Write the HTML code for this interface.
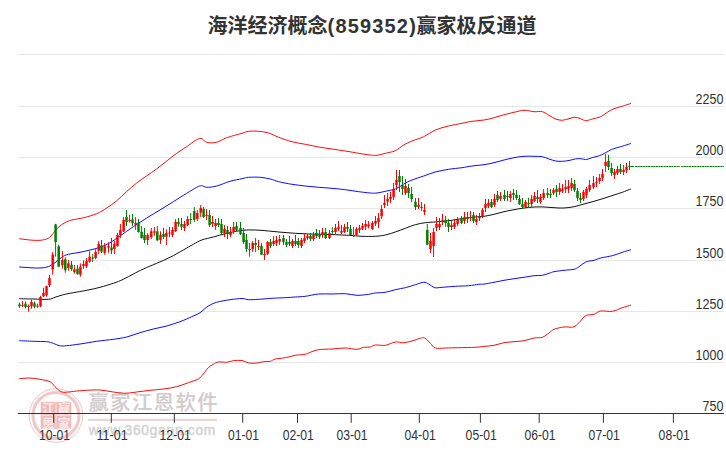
<!DOCTYPE html><html><head><meta charset="utf-8"><title>chart</title><style>
html,body{margin:0;padding:0;background:#fff}svg{display:block}
.ax{font-family:"Liberation Sans",sans-serif;font-size:14.2px;fill:#333}
.tt{font-family:"Liberation Sans","Noto Sans CJK SC",sans-serif;font-weight:bold;font-size:20px;fill:#333}
.wm{font-family:"Liberation Sans","Noto Sans CJK SC",sans-serif;font-weight:bold}
</style></head><body>
<svg width="726" height="450" viewBox="0 0 726 450">
<rect width="726" height="450" fill="#fff"/>
<line x1="18" x2="724" y1="54.5" y2="54.5" stroke="#e6e6e6" stroke-width="1"/>
<line x1="18" x2="724" y1="106.5" y2="106.5" stroke="#e6e6e6" stroke-width="1"/>
<line x1="18" x2="724" y1="157.5" y2="157.5" stroke="#e6e6e6" stroke-width="1"/>
<line x1="18" x2="724" y1="208.5" y2="208.5" stroke="#e6e6e6" stroke-width="1"/>
<line x1="18" x2="724" y1="260.5" y2="260.5" stroke="#e6e6e6" stroke-width="1"/>
<line x1="18" x2="724" y1="311.5" y2="311.5" stroke="#e6e6e6" stroke-width="1"/>
<line x1="18" x2="724" y1="362.5" y2="362.5" stroke="#e6e6e6" stroke-width="1"/>
<g id="wm">
<circle cx="56" cy="415.5" r="26.8" fill="none" stroke="#eebebe" stroke-width="0.9"/>
<circle cx="56" cy="415.5" r="23" fill="none" stroke="#f1c8c8" stroke-width="3.2"/>
<rect x="40.7" y="401.7" width="30.6" height="27.4" rx="1.5" fill="#efbcbc"/>
<path d="M56 402.5V428.5M41.5 415.4H70.5" stroke="#f6d8d8" stroke-width="1.2"/>
<text class="wm" x="48.4" y="412.8" font-size="12.6" fill="#fbeaea" text-anchor="middle">江</text>
<text class="wm" x="64.0" y="412.8" font-size="12.6" fill="#fbeaea" text-anchor="middle">赢</text>
<text class="wm" x="48.4" y="427.6" font-size="12.6" fill="#fbeaea" text-anchor="middle">恩</text>
<text class="wm" x="64.0" y="427.6" font-size="12.6" fill="#fbeaea" text-anchor="middle">家</text>
<text class="wm" x="88.6" y="409.5" font-size="20.3" style="font-weight:500" fill="#d2cccc" stroke="#d2cccc" stroke-width="0.2" textLength="129" lengthAdjust="spacing">赢家江恩软件</text>
<line x1="88" x2="217" y1="419.8" y2="419.8" stroke="#ecd6d6" stroke-width="2.2"/>
<text class="wm" x="88.8" y="434.9" font-size="13.8" style="font-weight:normal" fill="#d2d2d2" stroke="#d2d2d2" stroke-width="0.45" textLength="126.5" lengthAdjust="spacing">www.360gann.com</text>
</g>
<path d="M19.2 238.7C21.0 238.9 26.5 239.7 30.0 240.0C33.5 240.3 37.0 240.6 40.0 240.3C43.0 240.0 46.1 239.5 48.3 238.3C50.5 237.1 51.6 235.1 53.3 233.3C55.0 231.5 56.3 229.1 58.3 227.3C60.2 225.5 62.8 223.8 65.0 222.6C67.2 221.4 68.7 220.8 71.7 220.0C74.8 219.2 79.1 218.9 83.3 217.8C87.5 216.8 92.8 215.3 96.7 213.7C100.6 212.1 103.4 210.2 106.7 208.0C110.0 205.8 113.4 203.6 116.7 200.8C120.0 198.1 123.4 194.5 126.7 191.5C130.0 188.5 133.4 185.6 136.7 183.0C140.0 180.4 143.4 178.2 146.7 175.8C150.0 173.5 153.4 171.4 156.7 168.9C160.0 166.4 163.4 163.6 166.7 161.0C170.0 158.4 173.4 155.7 176.7 153.3C180.0 150.9 183.6 148.8 186.7 146.7C189.8 144.6 192.6 142.1 195.0 140.7C197.4 139.3 199.1 138.0 201.0 138.3C202.9 138.6 204.1 141.6 206.7 142.3C209.3 143.0 213.4 143.1 216.7 142.3C220.0 141.5 222.5 139.2 226.7 137.7C230.9 136.2 238.3 134.4 242.0 133.3C245.7 132.2 245.9 131.6 248.7 131.3C251.5 131.0 255.4 131.0 258.7 131.3C262.0 131.6 265.4 132.0 268.7 133.0C272.0 134.0 274.8 135.9 278.7 137.3C282.6 138.8 287.6 140.5 292.0 141.7C296.4 142.9 300.9 143.4 305.3 144.3C309.8 145.2 314.2 146.2 318.7 147.0C323.1 147.8 327.6 148.3 332.0 149.0C336.4 149.7 340.9 150.3 345.3 151.0C349.8 151.7 354.5 152.6 358.7 153.3C362.9 154.0 367.2 154.7 370.3 155.0C373.4 155.3 374.5 155.6 377.0 155.3C379.5 155.0 382.2 154.1 385.3 153.3C388.4 152.5 392.2 152.1 395.3 150.7C398.4 149.3 400.9 146.6 403.7 145.0C406.5 143.4 408.7 142.4 412.0 141.0C415.3 139.6 419.8 138.5 423.7 136.7C427.6 134.9 431.1 131.8 435.3 130.0C439.5 128.2 444.2 127.1 448.7 126.0C453.1 124.9 458.1 124.1 462.0 123.3C465.9 122.5 468.3 121.8 472.0 121.3C475.7 120.8 480.3 120.6 484.0 120.0C487.7 119.4 490.7 118.6 494.0 117.7C497.3 116.8 500.7 115.6 504.0 114.7C507.3 113.8 510.7 113.0 514.0 112.3C517.3 111.6 520.7 110.4 524.0 110.3C527.3 110.2 531.0 111.5 534.0 111.7C537.0 111.9 539.8 111.1 542.3 111.7C544.8 112.3 546.8 114.1 549.0 115.3C551.2 116.5 553.5 118.2 555.7 119.0C557.9 119.8 560.1 120.3 562.3 120.3C564.5 120.2 566.9 119.2 569.0 118.7C571.1 118.2 572.8 117.3 574.7 117.3C576.7 117.3 578.9 118.1 580.7 118.7C582.5 119.3 583.8 120.7 585.7 120.7C587.6 120.8 589.8 119.7 592.3 119.0C594.8 118.3 598.2 117.8 600.7 116.7C603.2 115.6 605.1 113.6 607.3 112.3C609.5 111.0 611.5 109.7 614.0 108.7C616.5 107.7 619.5 107.2 622.3 106.3C625.1 105.4 629.5 103.9 630.9 103.4" fill="none" stroke="#ff0a0a" stroke-width="1" stroke-linejoin="round"/>
<path d="M19.2 378.7C21.0 378.6 26.5 377.9 30.0 378.0C33.5 378.1 36.7 378.7 40.0 379.3C43.3 379.9 47.5 380.5 50.0 381.7C52.5 382.9 53.3 385.1 55.0 386.7C56.7 388.2 58.3 390.1 60.0 391.0C61.7 391.9 62.2 392.3 65.0 392.3C67.8 392.3 73.1 391.3 76.7 391.0C80.3 390.7 82.8 390.5 86.7 390.3C90.6 390.1 95.6 389.7 100.0 390.0C104.4 390.3 109.1 391.4 113.3 392.0C117.5 392.6 121.1 393.3 125.0 393.3C128.9 393.3 132.5 392.5 136.7 392.0C140.9 391.5 145.6 390.8 150.0 390.3C154.4 389.8 158.9 389.6 163.3 389.0C167.8 388.4 172.5 387.8 176.7 386.7C180.9 385.6 184.7 384.0 188.3 382.7C191.9 381.4 195.8 380.4 198.3 379.0C200.8 377.6 201.6 375.9 203.3 374.0C205.0 372.1 206.6 369.3 208.3 367.7C210.0 366.1 211.6 365.2 213.3 364.3C215.0 363.4 216.1 362.3 218.3 362.0C220.5 361.7 224.2 362.5 226.7 362.3C229.2 362.1 230.8 361.0 233.3 360.7C235.9 360.4 239.4 360.1 242.0 360.5C244.6 360.9 246.2 362.6 248.7 363.0C251.2 363.4 254.5 363.2 257.0 363.0C259.5 362.8 261.5 362.0 263.7 361.7C265.9 361.4 268.4 361.8 270.3 361.3C272.2 360.9 272.8 359.6 275.3 359.0C277.8 358.4 282.0 358.3 285.3 357.7C288.6 357.1 292.0 355.9 295.3 355.3C298.6 354.7 302.8 354.8 305.3 354.3C307.8 353.8 308.1 353.1 310.3 352.3C312.5 351.5 315.1 350.2 318.7 349.7C322.3 349.1 327.6 349.3 332.0 349.0C336.4 348.7 341.1 347.9 345.3 348.0C349.5 348.1 353.9 349.4 357.0 349.3C360.1 349.2 361.5 347.7 363.7 347.3C365.9 346.9 368.4 347.4 370.3 347.0C372.2 346.6 372.8 345.3 375.3 345.0C377.8 344.7 382.0 345.8 385.3 345.3C388.6 344.8 392.2 342.4 395.3 342.0C398.4 341.6 400.9 342.9 403.7 342.7C406.5 342.5 409.2 341.7 412.0 341.0C414.8 340.3 418.2 338.8 420.3 338.3C422.4 337.8 423.0 337.2 424.7 338.0C426.4 338.8 428.5 341.6 430.3 343.3C432.1 345.0 432.8 347.2 435.3 348.0C437.8 348.8 441.4 348.1 445.3 348.0C449.2 347.9 453.7 347.8 458.7 347.7C463.7 347.6 471.1 347.5 475.3 347.3C479.5 347.1 480.9 346.7 484.0 346.4C487.1 346.1 490.7 345.9 494.0 345.3C497.3 344.7 500.7 343.3 504.0 342.7C507.3 342.1 510.7 342.0 514.0 341.7C517.3 341.4 520.7 341.3 524.0 340.7C527.3 340.1 531.0 338.6 534.0 338.0C537.0 337.4 539.8 338.1 542.3 337.3C544.8 336.5 547.0 334.3 549.0 333.0C551.0 331.7 551.5 330.3 554.0 329.3C556.5 328.3 560.8 327.4 564.0 327.0C567.2 326.6 570.8 327.7 573.3 327.0C575.8 326.3 576.9 324.6 579.0 322.7C581.1 320.8 583.2 317.1 585.7 315.7C588.2 314.3 591.5 315.1 594.0 314.3C596.5 313.5 597.7 311.5 600.7 311.0C603.8 310.5 608.7 311.9 612.3 311.3C615.9 310.8 619.2 308.7 622.3 307.7C625.4 306.7 629.5 305.5 630.9 305.0" fill="none" stroke="#ff0a0a" stroke-width="1" stroke-linejoin="round"/>
<path d="M19.2 267.0C21.0 267.1 26.5 267.5 30.0 267.7C33.5 267.9 37.0 268.2 40.0 268.0C43.0 267.8 45.8 267.6 48.3 266.7C50.8 265.8 52.8 264.3 55.0 262.7C57.2 261.1 59.5 258.7 61.7 257.3C63.9 255.9 65.2 255.1 68.3 254.3C71.3 253.5 76.4 253.0 80.0 252.3C83.6 251.6 86.7 250.8 90.0 250.0C93.3 249.2 96.7 248.5 100.0 247.3C103.3 246.1 106.7 244.6 110.0 242.7C113.3 240.8 116.1 238.7 120.0 236.0C123.9 233.3 128.9 229.7 133.3 226.7C137.8 223.7 142.2 220.8 146.7 218.0C151.1 215.2 155.6 212.7 160.0 210.0C164.4 207.3 168.9 204.5 173.3 201.7C177.8 198.9 182.8 195.7 186.7 193.3C190.6 190.9 194.2 188.6 196.7 187.3C199.2 186.0 200.0 185.7 201.7 185.7C203.4 185.7 204.2 187.2 206.7 187.3C209.2 187.4 212.8 187.0 216.7 186.0C220.6 185.0 225.8 182.5 230.0 181.3C234.2 180.1 238.9 179.4 242.0 178.7C245.1 178.0 245.6 177.5 248.7 177.3C251.8 177.1 256.7 177.0 260.3 177.3C263.9 177.6 267.2 178.3 270.3 179.0C273.4 179.7 275.1 180.8 278.7 181.7C282.3 182.6 287.6 183.6 292.0 184.3C296.4 185.0 300.9 185.5 305.3 186.0C309.8 186.5 314.2 186.9 318.7 187.3C323.1 187.7 327.6 187.9 332.0 188.3C336.4 188.7 340.9 189.1 345.3 189.7C349.8 190.3 354.5 191.1 358.7 191.7C362.9 192.2 367.2 192.8 370.3 193.0C373.4 193.2 374.5 193.3 377.0 193.0C379.5 192.7 382.2 192.0 385.3 191.3C388.4 190.6 392.2 190.2 395.3 189.0C398.4 187.8 400.9 185.5 403.7 184.0C406.5 182.5 408.7 181.3 412.0 180.0C415.3 178.7 419.8 177.3 423.7 176.0C427.6 174.7 431.1 173.1 435.3 172.0C439.5 170.9 444.2 170.0 448.7 169.3C453.1 168.6 458.1 168.2 462.0 167.7C465.9 167.1 468.3 166.5 472.0 166.0C475.7 165.5 480.3 165.2 484.0 164.7C487.7 164.1 490.7 163.5 494.0 162.7C497.3 161.9 500.7 160.8 504.0 160.0C507.3 159.2 510.7 158.3 514.0 157.7C517.3 157.1 520.7 156.5 524.0 156.3C527.3 156.1 531.0 156.2 534.0 156.3C537.0 156.4 539.8 156.2 542.3 156.7C544.8 157.1 546.8 158.3 549.0 159.0C551.2 159.7 553.5 160.6 555.7 161.0C557.9 161.4 560.1 161.4 562.3 161.3C564.5 161.2 566.8 160.9 569.0 160.5C571.2 160.1 573.5 159.2 575.5 158.9C577.5 158.6 579.2 158.6 580.9 158.7C582.6 158.8 584.3 159.5 585.5 159.6C586.7 159.7 587.0 159.3 588.2 159.0C589.4 158.7 591.2 157.9 592.7 157.5C594.2 157.1 595.8 156.8 597.3 156.3C598.8 155.8 600.3 155.4 601.8 154.7C603.3 154.0 605.0 153.0 606.4 152.3C607.8 151.6 608.8 150.9 610.0 150.3C611.2 149.7 612.1 149.2 613.6 148.7C615.1 148.2 617.3 147.7 619.1 147.2C620.9 146.7 622.5 146.1 624.5 145.5C626.5 144.9 629.8 143.8 630.9 143.5" fill="none" stroke="#0a0aff" stroke-width="1" stroke-linejoin="round"/>
<path d="M19.2 340.7C21.5 340.8 28.7 341.1 33.3 341.3C37.9 341.5 43.4 341.4 46.7 341.7C50.0 342.0 51.2 342.6 53.3 343.3C55.4 344.0 57.1 345.3 59.3 345.7C61.5 346.1 63.2 346.0 66.7 345.7C70.2 345.4 75.0 344.7 80.0 344.0C85.0 343.3 91.2 342.1 96.7 341.3C102.2 340.5 108.3 340.0 113.3 339.3C118.3 338.6 122.2 338.1 126.7 337.0C131.2 335.9 135.6 334.0 140.0 332.7C144.4 331.4 148.9 330.1 153.3 329.0C157.8 327.9 162.2 327.2 166.7 326.0C171.1 324.8 175.8 323.2 180.0 321.7C184.2 320.1 188.4 318.2 191.7 316.7C195.0 315.2 197.2 314.5 200.0 312.7C202.8 310.9 205.5 307.7 208.3 306.0C211.1 304.3 213.1 303.4 216.7 302.3C220.3 301.2 225.8 300.3 230.0 299.7C234.2 299.1 238.9 298.5 242.0 298.5C245.1 298.5 245.9 299.6 248.7 299.7C251.5 299.8 254.8 299.5 258.7 299.3C262.6 299.1 267.6 298.6 272.0 298.3C276.4 298.0 281.4 297.9 285.3 297.7C289.2 297.5 292.0 297.2 295.3 297.0C298.6 296.8 301.4 296.8 305.3 296.3C309.2 295.8 314.2 294.4 318.7 294.0C323.1 293.6 327.6 294.1 332.0 294.0C336.4 293.9 341.1 293.5 345.3 293.7C349.5 293.9 353.1 295.2 357.0 295.3C360.9 295.4 365.6 294.7 368.7 294.3C371.8 293.9 372.5 293.3 375.3 293.0C378.1 292.7 382.0 292.9 385.3 292.3C388.6 291.8 392.0 290.5 395.3 289.7C398.6 288.9 402.0 288.5 405.3 287.7C408.6 286.9 412.2 285.6 415.3 284.7C418.4 283.8 421.5 282.4 423.7 282.3C425.9 282.2 426.9 283.1 428.7 284.0C430.5 284.9 432.5 287.1 434.7 287.7C436.9 288.2 438.6 287.5 442.0 287.3C445.4 287.1 450.9 286.6 455.3 286.3C459.8 286.0 464.8 286.0 468.7 285.7C472.6 285.4 476.1 284.6 478.7 284.3C481.2 284.0 481.4 284.4 484.0 284.1C486.6 283.8 490.7 282.9 494.0 282.3C497.3 281.7 500.7 280.9 504.0 280.3C507.3 279.7 510.7 279.2 514.0 278.7C517.3 278.2 520.7 277.8 524.0 277.3C527.3 276.8 531.0 276.0 534.0 275.7C537.0 275.4 539.8 275.7 542.3 275.3C544.8 274.9 547.0 273.9 549.0 273.3C551.0 272.7 551.5 272.2 554.0 271.7C556.5 271.2 560.7 270.7 564.0 270.3C567.3 269.9 571.5 269.9 574.0 269.3C576.5 268.7 577.0 267.9 579.0 266.7C581.0 265.5 583.2 263.1 585.7 262.0C588.2 260.9 591.5 261.0 594.0 260.3C596.5 259.6 597.7 258.8 600.7 258.0C603.8 257.2 608.7 256.6 612.3 255.7C615.9 254.8 619.2 253.3 622.3 252.3C625.4 251.3 629.5 250.2 630.9 249.7" fill="none" stroke="#0a0aff" stroke-width="1" stroke-linejoin="round"/>
<path d="M19.2 298.7C21.5 298.8 28.4 298.9 33.3 299.0C38.1 299.1 44.7 299.6 48.3 299.3C51.9 299.0 52.5 298.1 55.0 297.3C57.5 296.5 60.2 295.5 63.3 294.7C66.3 293.9 69.4 293.4 73.3 292.7C77.2 292.0 82.2 291.2 86.7 290.3C91.2 289.4 95.6 288.5 100.0 287.3C104.4 286.1 109.4 284.6 113.3 283.3C117.2 282.0 120.0 280.9 123.3 279.3C126.6 277.8 130.0 275.7 133.3 274.0C136.6 272.3 139.4 270.8 143.3 269.0C147.2 267.2 152.2 265.2 156.7 263.3C161.1 261.4 165.6 259.5 170.0 257.3C174.4 255.1 179.4 252.2 183.3 250.0C187.2 247.8 190.2 246.0 193.3 244.3C196.4 242.6 198.4 241.2 201.7 240.0C205.0 238.8 209.1 238.1 213.3 237.0C217.5 235.9 221.9 234.4 226.7 233.3C231.5 232.2 237.2 230.9 242.0 230.3C246.8 229.8 250.9 229.9 255.3 230.0C259.8 230.1 264.2 230.6 268.7 231.0C273.1 231.4 277.6 231.9 282.0 232.3C286.4 232.7 290.9 233.0 295.3 233.3C299.8 233.6 304.2 233.8 308.7 234.0C313.1 234.2 317.6 234.2 322.0 234.3C326.4 234.4 330.9 234.5 335.3 234.7C339.8 234.9 344.2 235.0 348.7 235.3C353.1 235.6 357.6 236.1 362.0 236.3C366.4 236.5 371.4 236.5 375.3 236.3C379.2 236.1 382.0 235.7 385.3 235.0C388.6 234.3 392.0 233.1 395.3 232.0C398.6 230.9 402.0 229.5 405.3 228.3C408.6 227.1 412.0 225.6 415.3 224.7C418.6 223.8 422.0 223.1 425.3 222.7C428.6 222.2 431.4 222.3 435.3 222.0C439.2 221.7 444.2 221.2 448.7 220.7C453.1 220.1 457.6 219.3 462.0 218.7C466.4 218.1 471.6 217.4 475.3 217.0C479.0 216.6 480.9 216.8 484.0 216.3C487.1 215.9 490.7 215.1 494.0 214.3C497.3 213.5 500.7 212.5 504.0 211.7C507.3 210.9 510.7 210.3 514.0 209.7C517.3 209.1 520.7 208.4 524.0 208.0C527.3 207.6 530.7 207.2 534.0 207.0C537.3 206.8 540.7 206.9 544.0 207.0C547.3 207.1 550.7 207.5 554.0 207.7C557.3 207.9 560.7 208.2 564.0 208.0C567.3 207.8 570.7 207.4 574.0 206.7C577.3 206.0 580.7 204.9 584.0 204.0C587.3 203.1 590.7 202.2 594.0 201.3C597.3 200.4 600.7 199.4 604.0 198.3C607.3 197.2 611.0 196.0 614.0 195.0C617.0 194.0 619.5 193.3 622.3 192.3C625.1 191.3 629.5 189.5 630.9 188.9" fill="none" stroke="#111" stroke-width="1" stroke-linejoin="round"/>
<path d="M19.5 302.5V307.8" stroke="#008000" stroke-width="1"/>
<rect x="18.25" y="304.5" width="2.5" height="1.7" fill="#008000"/>
<path d="M22.5 301.2V307.0" stroke="#ff0000" stroke-width="1"/>
<rect x="21.25" y="305.0" width="2.5" height="0.8" fill="#ff0000"/>
<path d="M25.5 301.5V308.3" stroke="#008000" stroke-width="1"/>
<rect x="24.25" y="303.7" width="2.5" height="3.3" fill="#008000"/>
<path d="M28.5 304.5V311.7" stroke="#ff0000" stroke-width="1"/>
<rect x="27.25" y="305.7" width="2.5" height="1.3" fill="#ff0000"/>
<path d="M31.5 299.5V308.7" stroke="#ff0000" stroke-width="1"/>
<rect x="30.25" y="302.0" width="2.5" height="4.2" fill="#ff0000"/>
<path d="M34.5 301.5V308.3" stroke="#008000" stroke-width="1"/>
<rect x="33.25" y="303.3" width="2.5" height="3.4" fill="#008000"/>
<path d="M37.5 303.7V307.8" stroke="#ff0000" stroke-width="1"/>
<rect x="36.25" y="305.7" width="2.5" height="1.0" fill="#ff0000"/>
<path d="M40.5 295.8V307.0" stroke="#ff0000" stroke-width="1"/>
<rect x="39.25" y="297.0" width="2.5" height="9.2" fill="#ff0000"/>
<path d="M43.5 287.8V297.0" stroke="#ff0000" stroke-width="1"/>
<rect x="42.25" y="292.8" width="2.5" height="3.4" fill="#ff0000"/>
<path d="M46.5 285.8V296.7" stroke="#ff0000" stroke-width="1"/>
<rect x="45.25" y="286.2" width="2.5" height="9.1" fill="#ff0000"/>
<path d="M49.5 275.0V287.0" stroke="#ff0000" stroke-width="1"/>
<rect x="48.25" y="278.0" width="2.5" height="7.3" fill="#ff0000"/>
<path d="M52.7 252.0V274.7" stroke="#ff0000" stroke-width="1"/>
<rect x="51.45" y="254.5" width="2.5" height="15.0" fill="#ff0000"/>
<path d="M55.6 223.8V256.7" stroke="#008000" stroke-width="1"/>
<rect x="54.35" y="224.4" width="2.5" height="17.6" fill="#008000"/>
<path d="M58.7 244.7V266.7" stroke="#008000" stroke-width="1"/>
<rect x="57.45" y="246.3" width="2.5" height="20.4" fill="#008000"/>
<path d="M62.4 251.0V268.7" stroke="#ff0000" stroke-width="1"/>
<rect x="61.15" y="260.0" width="2.5" height="5.3" fill="#ff0000"/>
<path d="M65.3 257.3V272.7" stroke="#008000" stroke-width="1"/>
<rect x="64.05" y="259.3" width="2.5" height="10.7" fill="#008000"/>
<path d="M68.4 260.0V270.7" stroke="#ff0000" stroke-width="1"/>
<rect x="67.15" y="263.3" width="2.5" height="4.7" fill="#ff0000"/>
<path d="M71.5 261.0V270.7" stroke="#008000" stroke-width="1"/>
<rect x="70.25" y="264.7" width="2.5" height="4.6" fill="#008000"/>
<path d="M74.4 265.0V273.7" stroke="#ff0000" stroke-width="1"/>
<rect x="73.15" y="269.3" width="2.5" height="2.7" fill="#ff0000"/>
<path d="M77.5 265.0V274.7" stroke="#008000" stroke-width="1"/>
<rect x="76.25" y="268.7" width="2.5" height="5.3" fill="#008000"/>
<path d="M80.4 263.3V276.7" stroke="#ff0000" stroke-width="1"/>
<rect x="79.15" y="266.7" width="2.5" height="8.0" fill="#ff0000"/>
<path d="M83.5 260.4V268.7" stroke="#ff0000" stroke-width="1"/>
<rect x="82.25" y="264.0" width="2.5" height="2.0" fill="#ff0000"/>
<path d="M86.5 258.0V268.0" stroke="#ff0000" stroke-width="1"/>
<rect x="85.25" y="261.0" width="2.5" height="5.3" fill="#ff0000"/>
<path d="M89.6 251.3V262.7" stroke="#ff0000" stroke-width="1"/>
<rect x="88.35" y="256.7" width="2.5" height="5.0" fill="#ff0000"/>
<path d="M92.7 254.0V262.0" stroke="#008000" stroke-width="1"/>
<rect x="91.45" y="257.5" width="2.5" height="1.0" fill="#008000"/>
<path d="M95.6 249.3V259.3" stroke="#ff0000" stroke-width="1"/>
<rect x="94.35" y="252.0" width="2.5" height="6.0" fill="#ff0000"/>
<path d="M98.7 241.0V254.0" stroke="#ff0000" stroke-width="1"/>
<rect x="97.45" y="244.0" width="2.5" height="6.7" fill="#ff0000"/>
<path d="M101.5 240.0V253.0" stroke="#008000" stroke-width="1"/>
<rect x="100.25" y="245.6" width="2.5" height="6.0" fill="#008000"/>
<path d="M104.7 243.0V254.7" stroke="#ff0000" stroke-width="1"/>
<rect x="103.45" y="246.3" width="2.5" height="6.4" fill="#ff0000"/>
<path d="M108.5 242.3V252.7" stroke="#ff0000" stroke-width="1"/>
<rect x="107.25" y="246.0" width="2.5" height="1.6" fill="#ff0000"/>
<path d="M111.5 238.0V254.0" stroke="#008000" stroke-width="1"/>
<rect x="110.25" y="247.5" width="2.5" height="2.9" fill="#008000"/>
<path d="M114.4 240.7V254.0" stroke="#ff0000" stroke-width="1"/>
<rect x="113.15" y="243.7" width="2.5" height="5.3" fill="#ff0000"/>
<path d="M117.5 233.0V246.7" stroke="#ff0000" stroke-width="1"/>
<rect x="116.25" y="235.0" width="2.5" height="11.0" fill="#ff0000"/>
<path d="M120.4 224.0V238.0" stroke="#ff0000" stroke-width="1"/>
<rect x="119.15" y="230.0" width="2.5" height="5.0" fill="#ff0000"/>
<path d="M123.6 217.0V232.0" stroke="#ff0000" stroke-width="1"/>
<rect x="122.35" y="220.0" width="2.5" height="11.3" fill="#ff0000"/>
<path d="M126.5 210.0V226.0" stroke="#008000" stroke-width="1"/>
<rect x="125.25" y="217.0" width="2.5" height="5.0" fill="#008000"/>
<path d="M129.6 214.7V222.7" stroke="#ff0000" stroke-width="1"/>
<rect x="128.35" y="220.0" width="2.5" height="1.0" fill="#ff0000"/>
<path d="M132.5 214.0V226.0" stroke="#008000" stroke-width="1"/>
<rect x="131.25" y="219.3" width="2.5" height="4.0" fill="#008000"/>
<path d="M135.6 217.0V230.0" stroke="#ff0000" stroke-width="1"/>
<rect x="134.35" y="223.0" width="2.5" height="1.7" fill="#ff0000"/>
<path d="M138.5 219.0V232.7" stroke="#008000" stroke-width="1"/>
<rect x="137.25" y="222.7" width="2.5" height="9.3" fill="#008000"/>
<path d="M141.6 226.0V238.7" stroke="#008000" stroke-width="1"/>
<rect x="140.35" y="231.7" width="2.5" height="6.3" fill="#008000"/>
<path d="M144.5 228.0V243.0" stroke="#008000" stroke-width="1"/>
<rect x="143.25" y="235.0" width="2.5" height="5.0" fill="#008000"/>
<path d="M147.6 233.3V245.0" stroke="#ff0000" stroke-width="1"/>
<rect x="146.35" y="235.0" width="2.5" height="5.0" fill="#ff0000"/>
<path d="M151.3 228.0V239.0" stroke="#ff0000" stroke-width="1"/>
<rect x="150.05" y="231.3" width="2.5" height="5.7" fill="#ff0000"/>
<path d="M154.4 227.0V235.7" stroke="#ff0000" stroke-width="1"/>
<rect x="153.15" y="231.3" width="2.5" height="1.4" fill="#ff0000"/>
<path d="M157.3 226.0V241.0" stroke="#008000" stroke-width="1"/>
<rect x="156.05" y="231.3" width="2.5" height="9.0" fill="#008000"/>
<path d="M160.5 231.3V244.0" stroke="#ff0000" stroke-width="1"/>
<rect x="159.25" y="235.0" width="2.5" height="5.0" fill="#ff0000"/>
<path d="M163.5 228.0V239.0" stroke="#008000" stroke-width="1"/>
<rect x="162.25" y="234.0" width="2.5" height="3.0" fill="#008000"/>
<path d="M166.4 229.3V245.0" stroke="#ff0000" stroke-width="1"/>
<rect x="165.15" y="233.0" width="2.5" height="3.7" fill="#ff0000"/>
<path d="M169.5 227.0V237.0" stroke="#ff0000" stroke-width="1"/>
<rect x="168.25" y="232.5" width="2.5" height="1.0" fill="#ff0000"/>
<path d="M172.5 227.0V237.0" stroke="#ff0000" stroke-width="1"/>
<rect x="171.25" y="230.0" width="2.5" height="5.0" fill="#ff0000"/>
<path d="M175.6 219.0V232.0" stroke="#ff0000" stroke-width="1"/>
<rect x="174.35" y="222.0" width="2.5" height="9.0" fill="#ff0000"/>
<path d="M178.5 218.0V226.7" stroke="#008000" stroke-width="1"/>
<rect x="177.25" y="222.0" width="2.5" height="2.0" fill="#008000"/>
<path d="M181.5 218.0V230.0" stroke="#008000" stroke-width="1"/>
<rect x="180.25" y="224.0" width="2.5" height="2.7" fill="#008000"/>
<path d="M184.5 221.0V231.0" stroke="#ff0000" stroke-width="1"/>
<rect x="183.25" y="224.0" width="2.5" height="4.0" fill="#ff0000"/>
<path d="M187.6 216.0V226.0" stroke="#ff0000" stroke-width="1"/>
<rect x="186.35" y="219.0" width="2.5" height="6.0" fill="#ff0000"/>
<path d="M190.7 213.0V224.0" stroke="#008000" stroke-width="1"/>
<rect x="189.45" y="219.0" width="2.5" height="1.0" fill="#008000"/>
<path d="M194.3 207.0V222.0" stroke="#008000" stroke-width="1"/>
<rect x="193.05" y="211.0" width="2.5" height="8.8" fill="#008000"/>
<path d="M197.3 210.0V221.0" stroke="#ff0000" stroke-width="1"/>
<rect x="196.05" y="213.0" width="2.5" height="6.0" fill="#ff0000"/>
<path d="M200.7 205.0V217.0" stroke="#ff0000" stroke-width="1"/>
<rect x="199.45" y="208.0" width="2.5" height="4.7" fill="#ff0000"/>
<path d="M203.6 207.0V218.0" stroke="#008000" stroke-width="1"/>
<rect x="202.35" y="209.0" width="2.5" height="8.0" fill="#008000"/>
<path d="M206.5 209.0V220.0" stroke="#ff0000" stroke-width="1"/>
<rect x="205.25" y="215.0" width="2.5" height="1.0" fill="#ff0000"/>
<path d="M209.6 210.0V227.0" stroke="#008000" stroke-width="1"/>
<rect x="208.35" y="215.0" width="2.5" height="10.0" fill="#008000"/>
<path d="M212.5 216.0V227.0" stroke="#ff0000" stroke-width="1"/>
<rect x="211.25" y="222.0" width="2.5" height="2.0" fill="#ff0000"/>
<path d="M215.6 219.0V230.0" stroke="#ff0000" stroke-width="1"/>
<rect x="214.35" y="223.0" width="2.5" height="3.0" fill="#ff0000"/>
<path d="M218.5 218.0V227.0" stroke="#008000" stroke-width="1"/>
<rect x="217.25" y="223.0" width="2.5" height="2.0" fill="#008000"/>
<path d="M221.5 219.0V234.0" stroke="#008000" stroke-width="1"/>
<rect x="220.25" y="224.0" width="2.5" height="9.0" fill="#008000"/>
<path d="M224.5 225.0V237.0" stroke="#ff0000" stroke-width="1"/>
<rect x="223.25" y="228.7" width="2.5" height="4.6" fill="#ff0000"/>
<path d="M227.5 226.0V239.0" stroke="#008000" stroke-width="1"/>
<rect x="226.25" y="230.0" width="2.5" height="4.0" fill="#008000"/>
<path d="M230.5 227.0V237.0" stroke="#ff0000" stroke-width="1"/>
<rect x="229.25" y="232.0" width="2.5" height="3.0" fill="#ff0000"/>
<path d="M233.6 222.0V234.0" stroke="#ff0000" stroke-width="1"/>
<rect x="232.35" y="227.0" width="2.5" height="4.0" fill="#ff0000"/>
<path d="M236.5 222.0V232.0" stroke="#008000" stroke-width="1"/>
<rect x="235.25" y="226.0" width="2.5" height="4.0" fill="#008000"/>
<path d="M240.5 222.0V235.0" stroke="#008000" stroke-width="1"/>
<rect x="239.25" y="228.0" width="2.5" height="6.0" fill="#008000"/>
<path d="M243.6 228.0V244.0" stroke="#008000" stroke-width="1"/>
<rect x="242.35" y="233.0" width="2.5" height="9.0" fill="#008000"/>
<path d="M246.5 234.0V252.0" stroke="#008000" stroke-width="1"/>
<rect x="245.25" y="240.0" width="2.5" height="9.0" fill="#008000"/>
<path d="M249.6 243.0V256.7" stroke="#ff0000" stroke-width="1"/>
<rect x="248.35" y="249.0" width="2.5" height="1.0" fill="#ff0000"/>
<path d="M252.7 241.0V252.0" stroke="#ff0000" stroke-width="1"/>
<rect x="251.45" y="243.0" width="2.5" height="6.0" fill="#ff0000"/>
<path d="M255.6 238.0V252.0" stroke="#008000" stroke-width="1"/>
<rect x="254.35" y="243.0" width="2.5" height="2.0" fill="#008000"/>
<path d="M258.5 240.0V250.0" stroke="#ff0000" stroke-width="1"/>
<rect x="257.25" y="246.0" width="2.5" height="1.0" fill="#ff0000"/>
<path d="M261.5 243.0V255.0" stroke="#008000" stroke-width="1"/>
<rect x="260.25" y="246.0" width="2.5" height="8.7" fill="#008000"/>
<path d="M264.5 249.0V260.0" stroke="#ff0000" stroke-width="1"/>
<rect x="263.25" y="254.0" width="2.5" height="1.3" fill="#ff0000"/>
<path d="M267.6 241.0V255.0" stroke="#ff0000" stroke-width="1"/>
<rect x="266.35" y="242.0" width="2.5" height="12.0" fill="#ff0000"/>
<path d="M270.5 239.0V248.0" stroke="#008000" stroke-width="1"/>
<rect x="269.25" y="242.0" width="2.5" height="4.0" fill="#008000"/>
<path d="M273.6 236.0V246.0" stroke="#ff0000" stroke-width="1"/>
<rect x="272.35" y="241.0" width="2.5" height="3.0" fill="#ff0000"/>
<path d="M276.5 236.0V246.0" stroke="#ff0000" stroke-width="1"/>
<rect x="275.25" y="240.0" width="2.5" height="3.0" fill="#ff0000"/>
<path d="M279.6 235.0V245.0" stroke="#ff0000" stroke-width="1"/>
<rect x="278.35" y="239.0" width="2.5" height="2.6" fill="#ff0000"/>
<path d="M283.5 235.0V245.0" stroke="#008000" stroke-width="1"/>
<rect x="282.25" y="238.0" width="2.5" height="4.0" fill="#008000"/>
<path d="M286.5 239.0V247.0" stroke="#008000" stroke-width="1"/>
<rect x="285.25" y="242.0" width="2.5" height="3.0" fill="#008000"/>
<path d="M289.5 236.0V246.0" stroke="#008000" stroke-width="1"/>
<rect x="288.25" y="242.0" width="2.5" height="2.0" fill="#008000"/>
<path d="M292.5 239.0V248.0" stroke="#ff0000" stroke-width="1"/>
<rect x="291.25" y="241.0" width="2.5" height="5.0" fill="#ff0000"/>
<path d="M295.5 235.0V246.0" stroke="#008000" stroke-width="1"/>
<rect x="294.25" y="241.0" width="2.5" height="3.0" fill="#008000"/>
<path d="M298.4 238.0V248.0" stroke="#008000" stroke-width="1"/>
<rect x="297.15" y="241.0" width="2.5" height="4.0" fill="#008000"/>
<path d="M301.5 238.0V248.0" stroke="#ff0000" stroke-width="1"/>
<rect x="300.25" y="240.0" width="2.5" height="6.0" fill="#ff0000"/>
<path d="M304.5 234.0V243.0" stroke="#ff0000" stroke-width="1"/>
<rect x="303.25" y="238.0" width="2.5" height="3.0" fill="#ff0000"/>
<path d="M307.5 234.0V240.0" stroke="#ff0000" stroke-width="1"/>
<rect x="306.25" y="236.0" width="2.5" height="2.0" fill="#ff0000"/>
<path d="M310.5 233.0V241.0" stroke="#008000" stroke-width="1"/>
<rect x="309.25" y="236.0" width="2.5" height="3.0" fill="#008000"/>
<path d="M313.5 232.0V241.0" stroke="#ff0000" stroke-width="1"/>
<rect x="312.25" y="235.0" width="2.5" height="4.0" fill="#ff0000"/>
<path d="M316.5 229.0V238.0" stroke="#008000" stroke-width="1"/>
<rect x="315.25" y="233.0" width="2.5" height="3.0" fill="#008000"/>
<path d="M319.5 230.0V239.0" stroke="#008000" stroke-width="1"/>
<rect x="318.25" y="235.0" width="2.5" height="1.7" fill="#008000"/>
<path d="M322.5 228.0V238.0" stroke="#ff0000" stroke-width="1"/>
<rect x="321.25" y="232.0" width="2.5" height="2.0" fill="#ff0000"/>
<path d="M325.6 228.0V239.0" stroke="#008000" stroke-width="1"/>
<rect x="324.35" y="232.0" width="2.5" height="6.0" fill="#008000"/>
<path d="M329.5 230.0V239.0" stroke="#ff0000" stroke-width="1"/>
<rect x="328.25" y="233.0" width="2.5" height="5.0" fill="#ff0000"/>
<path d="M332.4 227.0V234.0" stroke="#008000" stroke-width="1"/>
<rect x="331.15" y="231.0" width="2.5" height="1.0" fill="#008000"/>
<path d="M335.5 224.0V234.0" stroke="#ff0000" stroke-width="1"/>
<rect x="334.25" y="228.0" width="2.5" height="4.0" fill="#ff0000"/>
<path d="M338.5 221.0V231.0" stroke="#ff0000" stroke-width="1"/>
<rect x="337.25" y="227.0" width="2.5" height="2.0" fill="#ff0000"/>
<path d="M341.5 225.0V234.0" stroke="#ff0000" stroke-width="1"/>
<rect x="340.25" y="231.0" width="2.5" height="1.7" fill="#ff0000"/>
<path d="M344.5 224.0V233.0" stroke="#ff0000" stroke-width="1"/>
<rect x="343.25" y="227.0" width="2.5" height="5.0" fill="#ff0000"/>
<path d="M347.5 222.0V232.0" stroke="#008000" stroke-width="1"/>
<rect x="346.25" y="227.0" width="2.5" height="1.7" fill="#008000"/>
<path d="M350.5 225.0V235.0" stroke="#008000" stroke-width="1"/>
<rect x="349.25" y="229.0" width="2.5" height="6.0" fill="#008000"/>
<path d="M353.6 227.0V237.0" stroke="#ff0000" stroke-width="1"/>
<rect x="352.35" y="235.0" width="2.5" height="1.0" fill="#ff0000"/>
<path d="M356.5 227.0V236.0" stroke="#ff0000" stroke-width="1"/>
<rect x="355.25" y="229.0" width="2.5" height="6.0" fill="#ff0000"/>
<path d="M359.5 225.0V233.0" stroke="#ff0000" stroke-width="1"/>
<rect x="358.25" y="228.0" width="2.5" height="2.0" fill="#ff0000"/>
<path d="M362.5 223.0V230.0" stroke="#ff0000" stroke-width="1"/>
<rect x="361.25" y="226.0" width="2.5" height="2.7" fill="#ff0000"/>
<path d="M365.6 220.0V230.0" stroke="#ff0000" stroke-width="1"/>
<rect x="364.35" y="224.0" width="2.5" height="2.7" fill="#ff0000"/>
<path d="M368.6 221.0V228.5" stroke="#ff0000" stroke-width="1"/>
<rect x="367.35" y="224.5" width="2.5" height="2.0" fill="#ff0000"/>
<path d="M372.4 221.0V230.0" stroke="#ff0000" stroke-width="1"/>
<rect x="371.15" y="223.0" width="2.5" height="6.0" fill="#ff0000"/>
<path d="M375.5 216.0V226.0" stroke="#ff0000" stroke-width="1"/>
<rect x="374.25" y="221.0" width="2.5" height="2.7" fill="#ff0000"/>
<path d="M378.5 213.0V228.0" stroke="#ff0000" stroke-width="1"/>
<rect x="377.25" y="218.0" width="2.5" height="4.0" fill="#ff0000"/>
<path d="M381.6 205.0V219.0" stroke="#ff0000" stroke-width="1"/>
<rect x="380.35" y="209.0" width="2.5" height="7.3" fill="#ff0000"/>
<path d="M384.5 195.0V208.0" stroke="#ff0000" stroke-width="1"/>
<rect x="383.25" y="203.0" width="2.5" height="2.0" fill="#ff0000"/>
<path d="M387.6 193.0V206.0" stroke="#ff0000" stroke-width="1"/>
<rect x="386.35" y="199.0" width="2.5" height="2.7" fill="#ff0000"/>
<path d="M390.5 192.0V203.0" stroke="#ff0000" stroke-width="1"/>
<rect x="389.25" y="197.0" width="2.5" height="2.0" fill="#ff0000"/>
<path d="M393.6 183.0V200.0" stroke="#ff0000" stroke-width="1"/>
<rect x="392.35" y="189.0" width="2.5" height="8.0" fill="#ff0000"/>
<path d="M396.5 170.0V190.0" stroke="#ff0000" stroke-width="1"/>
<rect x="395.25" y="180.0" width="2.5" height="5.0" fill="#ff0000"/>
<path d="M399.5 170.0V192.0" stroke="#008000" stroke-width="1"/>
<rect x="398.25" y="176.0" width="2.5" height="6.0" fill="#008000"/>
<path d="M402.5 176.0V195.0" stroke="#008000" stroke-width="1"/>
<rect x="401.25" y="185.0" width="2.5" height="4.0" fill="#008000"/>
<path d="M405.5 179.0V195.0" stroke="#ff0000" stroke-width="1"/>
<rect x="404.25" y="186.0" width="2.5" height="7.0" fill="#ff0000"/>
<path d="M408.5 184.0V198.0" stroke="#008000" stroke-width="1"/>
<rect x="407.25" y="188.0" width="2.5" height="5.0" fill="#008000"/>
<path d="M411.6 187.0V202.0" stroke="#008000" stroke-width="1"/>
<rect x="410.35" y="194.0" width="2.5" height="5.0" fill="#008000"/>
<path d="M415.5 198.0V210.0" stroke="#008000" stroke-width="1"/>
<rect x="414.25" y="202.0" width="2.5" height="5.0" fill="#008000"/>
<path d="M418.5 198.0V209.0" stroke="#ff0000" stroke-width="1"/>
<rect x="417.25" y="205.0" width="2.5" height="2.0" fill="#ff0000"/>
<path d="M421.6 202.0V211.0" stroke="#008000" stroke-width="1"/>
<rect x="420.35" y="207.0" width="2.5" height="1.0" fill="#008000"/>
<path d="M424.5 204.0V215.0" stroke="#ff0000" stroke-width="1"/>
<rect x="423.25" y="210.0" width="2.5" height="2.0" fill="#ff0000"/>
<path d="M427.3 224.0V245.0" stroke="#008000" stroke-width="1"/>
<rect x="426.05" y="230.0" width="2.5" height="14.7" fill="#008000"/>
<path d="M430.5 233.0V253.0" stroke="#ff0000" stroke-width="1"/>
<rect x="429.25" y="241.0" width="2.5" height="8.0" fill="#ff0000"/>
<path d="M433.6 228.0V257.0" stroke="#ff0000" stroke-width="1"/>
<rect x="432.35" y="232.0" width="2.5" height="14.0" fill="#ff0000"/>
<path d="M436.5 217.0V231.0" stroke="#ff0000" stroke-width="1"/>
<rect x="435.25" y="224.0" width="2.5" height="3.7" fill="#ff0000"/>
<path d="M439.5 218.0V230.0" stroke="#ff0000" stroke-width="1"/>
<rect x="438.25" y="224.0" width="2.5" height="3.0" fill="#ff0000"/>
<path d="M442.5 214.0V225.0" stroke="#ff0000" stroke-width="1"/>
<rect x="441.25" y="220.0" width="2.5" height="2.0" fill="#ff0000"/>
<path d="M445.6 216.0V227.0" stroke="#008000" stroke-width="1"/>
<rect x="444.35" y="220.0" width="2.5" height="3.0" fill="#008000"/>
<path d="M448.5 219.0V232.0" stroke="#008000" stroke-width="1"/>
<rect x="447.25" y="223.0" width="2.5" height="4.0" fill="#008000"/>
<path d="M451.5 221.0V230.0" stroke="#ff0000" stroke-width="1"/>
<rect x="450.25" y="225.0" width="2.5" height="2.0" fill="#ff0000"/>
<path d="M454.5 219.0V229.0" stroke="#ff0000" stroke-width="1"/>
<rect x="453.25" y="223.0" width="2.5" height="4.0" fill="#ff0000"/>
<path d="M457.6 217.0V226.0" stroke="#ff0000" stroke-width="1"/>
<rect x="456.35" y="220.0" width="2.5" height="4.0" fill="#ff0000"/>
<path d="M461.5 216.0V224.0" stroke="#008000" stroke-width="1"/>
<rect x="460.25" y="218.0" width="2.5" height="5.0" fill="#008000"/>
<path d="M464.5 212.0V224.0" stroke="#ff0000" stroke-width="1"/>
<rect x="463.25" y="217.0" width="2.5" height="4.0" fill="#ff0000"/>
<path d="M467.5 212.0V223.0" stroke="#008000" stroke-width="1"/>
<rect x="466.25" y="217.0" width="2.5" height="2.0" fill="#008000"/>
<path d="M470.5 211.0V221.0" stroke="#ff0000" stroke-width="1"/>
<rect x="469.25" y="217.0" width="2.5" height="1.0" fill="#ff0000"/>
<path d="M473.5 212.0V223.0" stroke="#008000" stroke-width="1"/>
<rect x="472.25" y="215.0" width="2.5" height="6.0" fill="#008000"/>
<path d="M476.4 215.0V225.0" stroke="#ff0000" stroke-width="1"/>
<rect x="475.15" y="219.0" width="2.5" height="3.0" fill="#ff0000"/>
<path d="M479.5 213.0V221.0" stroke="#ff0000" stroke-width="1"/>
<rect x="478.25" y="217.0" width="2.5" height="1.3" fill="#ff0000"/>
<path d="M482.5 208.0V218.0" stroke="#ff0000" stroke-width="1"/>
<rect x="481.25" y="210.0" width="2.5" height="7.0" fill="#ff0000"/>
<path d="M485.5 199.0V212.0" stroke="#ff0000" stroke-width="1"/>
<rect x="484.25" y="204.0" width="2.5" height="4.0" fill="#ff0000"/>
<path d="M488.5 199.0V208.0" stroke="#ff0000" stroke-width="1"/>
<rect x="487.25" y="203.0" width="2.5" height="3.0" fill="#ff0000"/>
<path d="M491.5 199.0V208.0" stroke="#008000" stroke-width="1"/>
<rect x="490.25" y="202.0" width="2.5" height="5.0" fill="#008000"/>
<path d="M494.5 194.0V207.0" stroke="#ff0000" stroke-width="1"/>
<rect x="493.25" y="199.0" width="2.5" height="6.0" fill="#ff0000"/>
<path d="M497.5 191.0V202.0" stroke="#008000" stroke-width="1"/>
<rect x="496.25" y="195.0" width="2.5" height="5.0" fill="#008000"/>
<path d="M500.5 192.0V201.0" stroke="#ff0000" stroke-width="1"/>
<rect x="499.25" y="196.0" width="2.5" height="3.0" fill="#ff0000"/>
<path d="M504.5 190.0V201.0" stroke="#008000" stroke-width="1"/>
<rect x="503.25" y="195.0" width="2.5" height="4.0" fill="#008000"/>
<path d="M507.5 191.0V201.0" stroke="#008000" stroke-width="1"/>
<rect x="506.25" y="196.0" width="2.5" height="1.0" fill="#008000"/>
<path d="M510.4 191.0V202.0" stroke="#ff0000" stroke-width="1"/>
<rect x="509.15" y="194.0" width="2.5" height="4.0" fill="#ff0000"/>
<path d="M513.5 189.0V200.0" stroke="#008000" stroke-width="1"/>
<rect x="512.25" y="193.0" width="2.5" height="2.0" fill="#008000"/>
<path d="M516.5 190.0V200.0" stroke="#008000" stroke-width="1"/>
<rect x="515.25" y="195.0" width="2.5" height="3.0" fill="#008000"/>
<path d="M519.5 195.0V205.0" stroke="#008000" stroke-width="1"/>
<rect x="518.25" y="199.0" width="2.5" height="5.0" fill="#008000"/>
<path d="M522.5 198.0V209.0" stroke="#008000" stroke-width="1"/>
<rect x="521.25" y="204.0" width="2.5" height="3.0" fill="#008000"/>
<path d="M525.5 200.0V208.0" stroke="#ff0000" stroke-width="1"/>
<rect x="524.25" y="202.0" width="2.5" height="5.0" fill="#ff0000"/>
<path d="M528.5 198.0V208.0" stroke="#008000" stroke-width="1"/>
<rect x="527.25" y="203.0" width="2.5" height="1.0" fill="#008000"/>
<path d="M531.6 195.0V207.0" stroke="#ff0000" stroke-width="1"/>
<rect x="530.35" y="199.0" width="2.5" height="5.0" fill="#ff0000"/>
<path d="M534.5 192.0V202.0" stroke="#ff0000" stroke-width="1"/>
<rect x="533.25" y="196.0" width="2.5" height="5.0" fill="#ff0000"/>
<path d="M537.5 190.0V203.0" stroke="#008000" stroke-width="1"/>
<rect x="536.25" y="197.0" width="2.5" height="2.0" fill="#008000"/>
<path d="M540.5 194.0V204.0" stroke="#ff0000" stroke-width="1"/>
<rect x="539.25" y="197.0" width="2.5" height="5.0" fill="#ff0000"/>
<path d="M543.6 189.0V200.0" stroke="#ff0000" stroke-width="1"/>
<rect x="542.35" y="193.0" width="2.5" height="5.0" fill="#ff0000"/>
<path d="M547.6 188.0V198.0" stroke="#008000" stroke-width="1"/>
<rect x="546.35" y="193.0" width="2.5" height="2.0" fill="#008000"/>
<path d="M550.5 189.0V198.0" stroke="#008000" stroke-width="1"/>
<rect x="549.25" y="194.0" width="2.5" height="1.2" fill="#008000"/>
<path d="M553.5 188.0V195.0" stroke="#ff0000" stroke-width="1"/>
<rect x="552.25" y="190.0" width="2.5" height="3.0" fill="#ff0000"/>
<path d="M556.5 185.0V197.0" stroke="#008000" stroke-width="1"/>
<rect x="555.25" y="189.0" width="2.5" height="3.0" fill="#008000"/>
<path d="M559.6 183.0V195.0" stroke="#ff0000" stroke-width="1"/>
<rect x="558.35" y="188.0" width="2.5" height="4.0" fill="#ff0000"/>
<path d="M562.5 184.0V193.0" stroke="#ff0000" stroke-width="1"/>
<rect x="561.25" y="189.0" width="2.5" height="2.0" fill="#ff0000"/>
<path d="M565.6 180.0V193.0" stroke="#ff0000" stroke-width="1"/>
<rect x="564.35" y="187.0" width="2.5" height="2.0" fill="#ff0000"/>
<path d="M568.5 180.0V193.0" stroke="#ff0000" stroke-width="1"/>
<rect x="567.25" y="186.0" width="2.5" height="3.0" fill="#ff0000"/>
<path d="M571.6 178.0V191.0" stroke="#ff0000" stroke-width="1"/>
<rect x="570.35" y="183.0" width="2.5" height="5.0" fill="#ff0000"/>
<path d="M574.5 180.0V192.0" stroke="#008000" stroke-width="1"/>
<rect x="573.25" y="184.0" width="2.5" height="6.0" fill="#008000"/>
<path d="M577.5 188.0V201.0" stroke="#008000" stroke-width="1"/>
<rect x="576.25" y="191.0" width="2.5" height="7.0" fill="#008000"/>
<path d="M580.5 193.0V203.0" stroke="#008000" stroke-width="1"/>
<rect x="579.25" y="198.0" width="2.5" height="2.0" fill="#008000"/>
<path d="M583.5 190.0V201.0" stroke="#ff0000" stroke-width="1"/>
<rect x="582.25" y="192.0" width="2.5" height="7.0" fill="#ff0000"/>
<path d="M586.5 187.0V198.0" stroke="#ff0000" stroke-width="1"/>
<rect x="585.25" y="189.0" width="2.5" height="6.0" fill="#ff0000"/>
<path d="M589.6 180.0V192.0" stroke="#ff0000" stroke-width="1"/>
<rect x="588.35" y="185.0" width="2.5" height="5.0" fill="#ff0000"/>
<path d="M593.5 176.0V189.0" stroke="#ff0000" stroke-width="1"/>
<rect x="592.25" y="183.0" width="2.5" height="4.0" fill="#ff0000"/>
<path d="M596.5 177.0V187.0" stroke="#ff0000" stroke-width="1"/>
<rect x="595.25" y="182.0" width="2.5" height="1.2" fill="#ff0000"/>
<path d="M599.6 174.0V184.0" stroke="#ff0000" stroke-width="1"/>
<rect x="598.35" y="178.0" width="2.5" height="3.0" fill="#ff0000"/>
<path d="M602.5 169.0V181.0" stroke="#ff0000" stroke-width="1"/>
<rect x="601.25" y="174.0" width="2.5" height="4.0" fill="#ff0000"/>
<path d="M605.6 154.0V172.0" stroke="#ff0000" stroke-width="1"/>
<rect x="604.35" y="162.0" width="2.5" height="4.0" fill="#ff0000"/>
<path d="M608.5 155.0V170.0" stroke="#008000" stroke-width="1"/>
<rect x="607.25" y="161.0" width="2.5" height="6.0" fill="#008000"/>
<path d="M611.6 163.0V176.0" stroke="#008000" stroke-width="1"/>
<rect x="610.35" y="168.0" width="2.5" height="5.0" fill="#008000"/>
<path d="M614.5 169.0V179.0" stroke="#ff0000" stroke-width="1"/>
<rect x="613.25" y="172.0" width="2.5" height="3.0" fill="#ff0000"/>
<path d="M617.5 166.0V175.0" stroke="#ff0000" stroke-width="1"/>
<rect x="616.25" y="169.0" width="2.5" height="4.0" fill="#ff0000"/>
<path d="M620.5 164.0V174.0" stroke="#008000" stroke-width="1"/>
<rect x="619.25" y="169.0" width="2.5" height="3.0" fill="#008000"/>
<path d="M623.6 165.0V175.0" stroke="#ff0000" stroke-width="1"/>
<rect x="622.35" y="170.0" width="2.5" height="2.0" fill="#ff0000"/>
<path d="M626.5 163.0V173.0" stroke="#ff0000" stroke-width="1"/>
<rect x="625.25" y="167.0" width="2.5" height="3.0" fill="#ff0000"/>
<path d="M629.5 161.0V170.0" stroke="#008000" stroke-width="1"/>
<rect x="628.25" y="166.0" width="2.5" height="1.0" fill="#008000"/>
<path d="M630.8 166.5H633.9" stroke="#008000" stroke-width="1"/>
<path d="M635 166.5H680M681.2 166.5H724" stroke="#088408" stroke-width="1" stroke-dasharray="2.2 0.4"/>
<path d="M18 413.5H724" stroke="#333" stroke-width="1"/>
<path d="M53.7 413.5V422.8" stroke="#333" stroke-width="1"/>
<text class="ax" x="54.5" y="439.8" text-anchor="middle" textLength="31.2" lengthAdjust="spacingAndGlyphs">10-01</text>
<path d="M111.3 413.5V422.8" stroke="#333" stroke-width="1"/>
<text class="ax" x="112.1" y="439.8" text-anchor="middle" textLength="31.2" lengthAdjust="spacingAndGlyphs">11-01</text>
<path d="M174.3 413.5V422.8" stroke="#333" stroke-width="1"/>
<text class="ax" x="175.1" y="439.8" text-anchor="middle" textLength="31.2" lengthAdjust="spacingAndGlyphs">12-01</text>
<path d="M242.7 413.5V422.8" stroke="#333" stroke-width="1"/>
<text class="ax" x="243.5" y="439.8" text-anchor="middle" textLength="31.2" lengthAdjust="spacingAndGlyphs">01-01</text>
<path d="M297.5 413.5V422.8" stroke="#333" stroke-width="1"/>
<text class="ax" x="298.3" y="439.8" text-anchor="middle" textLength="31.2" lengthAdjust="spacingAndGlyphs">02-01</text>
<path d="M351.2 413.5V422.8" stroke="#333" stroke-width="1"/>
<text class="ax" x="352.0" y="439.8" text-anchor="middle" textLength="31.2" lengthAdjust="spacingAndGlyphs">03-01</text>
<path d="M419.3 413.5V422.8" stroke="#333" stroke-width="1"/>
<text class="ax" x="420.1" y="439.8" text-anchor="middle" textLength="31.2" lengthAdjust="spacingAndGlyphs">04-01</text>
<path d="M480.4 413.5V422.8" stroke="#333" stroke-width="1"/>
<text class="ax" x="481.2" y="439.8" text-anchor="middle" textLength="31.2" lengthAdjust="spacingAndGlyphs">05-01</text>
<path d="M539.2 413.5V422.8" stroke="#333" stroke-width="1"/>
<text class="ax" x="540.0" y="439.8" text-anchor="middle" textLength="31.2" lengthAdjust="spacingAndGlyphs">06-01</text>
<path d="M603.4 413.5V422.8" stroke="#333" stroke-width="1"/>
<text class="ax" x="604.2" y="439.8" text-anchor="middle" textLength="31.2" lengthAdjust="spacingAndGlyphs">07-01</text>
<path d="M673.4 413.5V422.8" stroke="#333" stroke-width="1"/>
<text class="ax" x="674.2" y="439.8" text-anchor="middle" textLength="31.2" lengthAdjust="spacingAndGlyphs">08-01</text>
<text class="ax" x="723.4" y="104.0" text-anchor="end" textLength="28.0" lengthAdjust="spacingAndGlyphs">2250</text>
<text class="ax" x="723.4" y="155.0" text-anchor="end" textLength="28.0" lengthAdjust="spacingAndGlyphs">2000</text>
<text class="ax" x="723.4" y="206.0" text-anchor="end" textLength="28.0" lengthAdjust="spacingAndGlyphs">1750</text>
<text class="ax" x="723.4" y="258.0" text-anchor="end" textLength="28.0" lengthAdjust="spacingAndGlyphs">1500</text>
<text class="ax" x="723.4" y="309.0" text-anchor="end" textLength="28.0" lengthAdjust="spacingAndGlyphs">1250</text>
<text class="ax" x="723.4" y="360.0" text-anchor="end" textLength="28.0" lengthAdjust="spacingAndGlyphs">1000</text>
<text class="ax" x="723.4" y="411.0" text-anchor="end" textLength="21.0" lengthAdjust="spacingAndGlyphs">750</text>
<text class="tt" x="207.6" y="33.2" font-size="19.6">海洋经济概念</text>
<text class="tt" x="327.6" y="33.2" font-size="21" textLength="88.2" lengthAdjust="spacing">(859352)</text>
<text class="tt" x="416.4" y="33.2" font-size="19.6">赢家极反通道</text>
</svg></body></html>
